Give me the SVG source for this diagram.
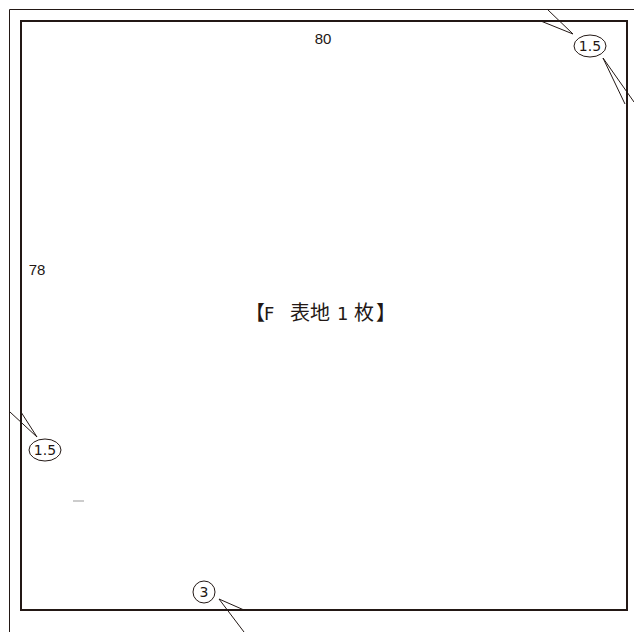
<svg xmlns="http://www.w3.org/2000/svg" width="634" height="632" viewBox="0 0 634 632">
<style>
.outer{fill:none;stroke:#231815;stroke-width:1}
.inner{fill:none;stroke:#231815;stroke-width:2}
.lead{fill:none;stroke:#231815;stroke-width:1}
.mark{fill:#fff;stroke:#231815;stroke-width:1}
.t{font-family:"DejaVu Sans","Noto Sans CJK JP",sans-serif;fill:#231815}
.d{font-family:"Liberation Sans",Arial,sans-serif;fill:#231815}
.j{font-family:"Noto Sans CJK JP",sans-serif;fill:#231815}
</style>
<rect width="634" height="632" fill="#fff"/>
<g id="outline">
<path class="outer" d="M634,9.5 H9.5 V632"/>
</g>
<g id="panel">
<rect class="inner" x="21" y="21" width="606" height="589"/>
<text class="d" x="323" y="44" font-size="15" text-anchor="middle">80</text>
<text class="d" x="37" y="275" font-size="15" text-anchor="middle">78</text>
<text class="j" y="320" font-size="20"><tspan x="245">【</tspan><tspan x="264" font-family="DejaVu Sans" font-size="18">F</tspan><tspan x="290">表地</tspan><tspan x="337" font-family="DejaVu Sans" font-size="18">1</tspan><tspan x="354">枚</tspan><tspan x="376">】</tspan></text>
<line x1="73" y1="501" x2="84" y2="501" stroke="#999" stroke-width="1"/>
</g>
<g id="connectors">
<path class="lead" d="M547,9 L573,34 M542,21.5 L573,34"/>
<path class="lead" d="M603,58 L634,102 M603,58 L625,104"/>
<path class="lead" d="M10,412 L37,437 M21,412 L37,437"/>
<path class="lead" d="M219,599 L244,610 M219,599 L244,632"/>
</g>
<g id="note-tr">
<ellipse class="mark" cx="590" cy="46" rx="16" ry="11"/>
<text class="t" x="590" y="51" font-size="14" text-anchor="middle">1.5</text>
</g>
<g id="note-l">
<ellipse class="mark" cx="45" cy="450" rx="16" ry="11"/>
<text class="t" x="45" y="455" font-size="14" text-anchor="middle">1.5</text>
</g>
<g id="note-b">
<circle class="mark" cx="204" cy="592" r="11"/>
<text class="t" x="204" y="597" font-size="14" text-anchor="middle">3</text>
</g>
</svg>
